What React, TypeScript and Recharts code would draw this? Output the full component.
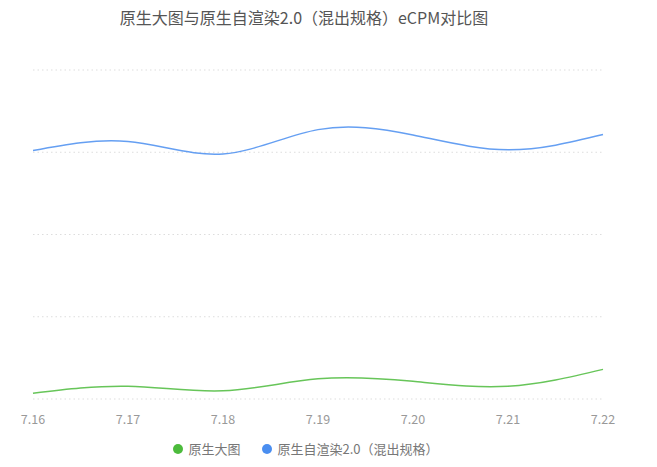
import { LineChart, Line, XAxis, YAxis, CartesianGrid, Legend } from 'recharts'

const dates = ['7.16', '7.17', '7.18', '7.19', '7.20', '7.21', '7.22']
const nativeBig = [0.7, 1.55, 1.0, 2.45, 2.15, 1.55, 3.6]
const nativeSelf = [30.2, 31.3, 29.8, 32.75, 32.1, 30.3, 32.15]
const yTicks = [0, 10, 20, 30, 40]

const SERIES = [
  { key: 'big', name: '原生大图', color: '#4cbb3c' },
  { key: 'self', name: '原生自渲染2.0（混出规格）', color: '#4a8ef0' },
]

const data = dates.map((d, i) => ({ date: d, big: nativeBig[i], self: nativeSelf[i] }))

const FONT = '"Noto Sans CJK SC", "Noto Sans", sans-serif'

function LegendContent() {
  return (
    <div style={{ display: 'flex', justifyContent: 'center', alignItems: 'center', fontFamily: FONT, fontSize: 13, color: '#777' }}>
      {SERIES.map((s, i) => (
        <div key={s.key} style={{ display: 'flex', alignItems: 'center', marginLeft: i ? 22 : 0 }}>
          <span style={{ width: 10, height: 10, borderRadius: 5, background: s.color, marginRight: 5, display: 'inline-block' }} />
          <span>{s.name}</span>
        </div>
      ))}
    </div>
  )
}

export default function App() {
  return (
    <div style={{ position: 'absolute', left: 0, top: 0, width: 657, height: 467, background: '#fff' }}>
      <div
        style={{
          position: 'absolute', top: 5, left: 0, width: 608, textAlign: 'center',
          fontFamily: FONT, fontSize: 16, color: '#555',
        }}
      >
        原生大图与原生自渲染2.0（混出规格）eCPM对比图
      </div>
      <LineChart width={657} height={467} data={data} margin={{ top: 70, right: 54, bottom: 38, left: 33 }}>
        <CartesianGrid vertical={false} stroke="#ddd" strokeDasharray="1.5 3" />
        <XAxis
          dataKey="date"
          axisLine={false}
          tickLine={false}
          height={30}
          tickMargin={10}
          tick={{ fontSize: 12.5, fill: '#999', fontFamily: FONT }}
          interval={0}
        />
        <YAxis hide domain={[0, 40]} ticks={yTicks} />
        <Legend
          layout="horizontal"
          verticalAlign="middle"
          align="center"
          content={<LegendContent />}
          wrapperStyle={{ top: 439, left: 2, width: 608, height: 20 }}
        />
        {SERIES.map((s) => (
          <Line
            key={s.key}
            dataKey={s.key}
            name={s.name}
            type="natural"
            stroke={s.color}
            strokeOpacity={0.85}
            strokeWidth={1.5}
            dot={false}
            activeDot={false}
            isAnimationActive={false}
          />
        ))}
      </LineChart>
    </div>
  )
}
